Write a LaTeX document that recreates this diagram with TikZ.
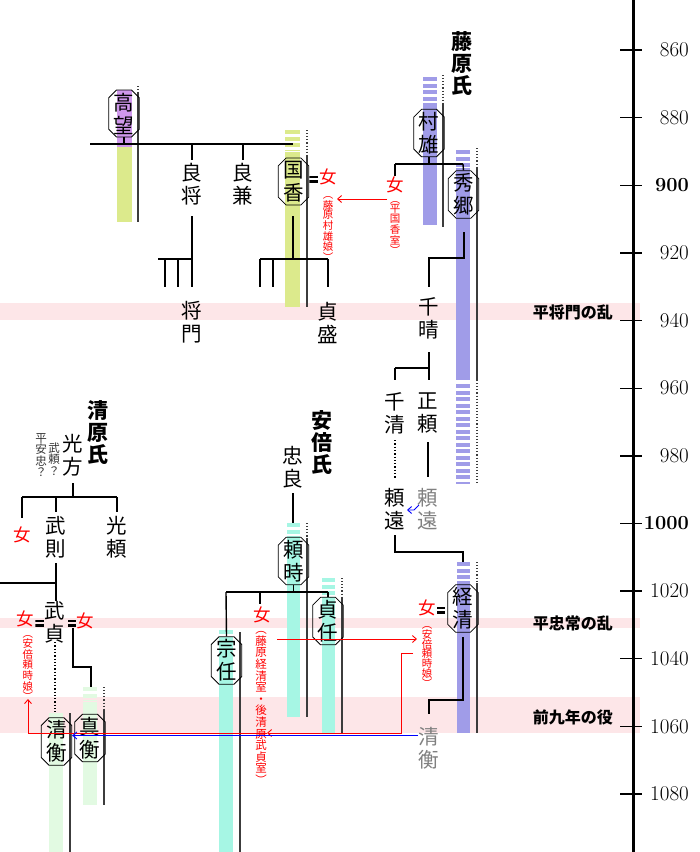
\documentclass[tikz,border=0pt]{standalone}
\usepackage{fontspec}
\newfontfamily\cjk{Noto Sans CJK JP}
\usetikzlibrary{shapes.misc,arrows.meta}
\definecolor{fpurple}{RGB}{160,156,232}
\definecolor{tpurple}{RGB}{208,152,236}
\definecolor{tyg}{RGB}{220,234,140}
\definecolor{acyan}{RGB}{166,246,228}
\definecolor{kgreen}{RGB}{226,250,226}
\definecolor{bandc}{RGB}{253,230,232}
\definecolor{gtext}{RGB}{128,128,128}
\definecolor{lifec}{RGB}{60,60,60}
\newcommand\stripebar[5]{%
  \pgfmathtruncatemacro\nstr{floor(((#4)-(#3))/6.5)}%
  \foreach \i in {0,...,\nstr}{\fill[#5] (#1,{#3+\i*6.5}) rectangle (#2,{min(#3+\i*6.5+4,#4)});}}
\begin{document}
\begin{tikzpicture}[x=1pt,y=-1pt,
  nm/.style={font=\cjk\fontsize{20.5}{23}\selectfont, align=center, inner sep=0pt},
  bx/.style={nm, draw, line width=0.8pt, chamfered rectangle, chamfered rectangle xsep=5pt, minimum width=28pt, minimum height=47pt},
  ttl/.style={font=\cjk\bfseries\fontsize{21}{22}\selectfont, align=center, inner sep=0pt},
  wom/.style={font=\cjk\fontsize{17.5}{17.5}\selectfont, text=red, inner sep=0pt},
  sm/.style={text=red, align=center, inner sep=0pt},
  gsm/.style={font=\cjk\fontsize{11.5}{11.3}\selectfont, text={rgb,255:red,50;green,50;blue,50}, align=center, inner sep=0pt},
  eq/.style={minimum width=8.5pt, minimum height=7pt, inner sep=0pt,
    path picture={\fill (path picture bounding box.north west) rectangle ([yshift=-2.2pt]path picture bounding box.north east);
                  \fill (path picture bounding box.south west) rectangle ([yshift=2.2pt]path picture bounding box.south east);}},
  tl/.style={line width=1.4pt},
  life/.style={line width=1.1pt, draw=lifec},
  lifed/.style={line width=1.1pt, draw=lifec, dotted},
  rarr/.style={red, line width=0.9pt, -{Straight Barb[length=4pt,width=7pt]}},
  barr/.style={blue, line width=0.9pt, -{Straight Barb[length=4pt,width=7pt]}},
  yr/.style={font=\fontsize{21}{21}\selectfont, anchor=east, inner sep=0pt},
  blab/.style={font=\cjk\bfseries\fontsize{16}{16}\selectfont, anchor=east, inner sep=0pt}
]
\useasboundingbox (0,0) rectangle (700,852);
% event bands
\fill[bandc] (0,303) rectangle (640,320);
\fill[bandc] (0,618) rectangle (640,628);
\fill[bandc] (0,697) rectangle (640,733);
\node[blab] (ev1) at (613,312) {平将門の乱};
\node[blab] (ev2) at (613,623) {平忠常の乱};
\node[blab] (ev3) at (613,717) {前九年の役};
% time axis
\draw[line width=3pt] (633,0) -- (633,852);
\foreach \y in {860,880,...,1080}{
  \pgfmathsetmacro\yy{50+(\y-860)*3.382}
  \draw[line width=1.4pt] (620,\yy) -- (642,\yy);
  \ifnum\y=900 \node[yr,font=\bfseries\fontsize{20}{20}\selectfont] (y\y) at (689,\yy) {\y};
  \else\ifnum\y=1000 \node[yr,font=\bfseries\fontsize{20}{20}\selectfont] (y\y) at (689,\yy) {\y};
  \else \node[yr] (y\y) at (689,\yy) {\y};\fi\fi
}
% ---------- life bars ----------
% Taira
\fill[tpurple] (117,90) rectangle (132,147);
\fill[tyg] (117,147) rectangle (132,222);
\draw[lifed] (138,86) -- (138,92); \draw[life] (138,92) -- (138,222);
\stripebar{285}{300}{130}{150}{tyg}
\fill[tyg] (285,152) rectangle (300,307);
\draw[lifed] (307,130) -- (307,155); \draw[life] (307,155) -- (307,307);
% Fujiwara
\stripebar{423}{437}{77}{101}{fpurple}
\fill[fpurple] (423,103) rectangle (437,225);
\draw[lifed] (443,75) -- (443,103); \draw[life] (443,103) -- (443,227);
\stripebar{456}{470}{150}{168}{fpurple}
\fill[fpurple] (456,168) rectangle (470,380);
\stripebar{456}{470}{384}{484}{fpurple}
\draw[lifed] (477,148) -- (477,168); \draw[life] (477,168) -- (477,380); \draw[lifed] (477,380) -- (477,484);
\stripebar{457}{470}{562}{580}{fpurple}
\fill[fpurple] (457,581) rectangle (470,733);
\draw[lifed] (477,562) -- (477,583); \draw[life] (477,583) -- (477,733);
% Abe
\stripebar{287}{300}{523}{535}{acyan}
\fill[acyan] (287,536) rectangle (300,717);
\draw[lifed] (307,523) -- (307,538); \draw[life] (307,538) -- (307,717);
\stripebar{322}{335}{578}{596}{acyan}
\fill[acyan] (322,597) rectangle (335,733);
\draw[lifed] (342,578) -- (342,597); \draw[life] (342,597) -- (342,733);
\stripebar{219}{233}{630}{637}{acyan}
\fill[acyan] (219,637) rectangle (233,852);
\draw[life] (240,632) -- (240,852);
% Kiyohara
\fill[kgreen] (49,713) rectangle (63,852);
\draw[life] (70,713) -- (70,852);
\stripebar{83}{97}{687}{701}{kgreen}
\fill[kgreen] (83,702) rectangle (97,805);
\draw[lifed] (104,687) -- (104,710); \draw[life] (104,710) -- (104,805);
% ---------- Taira ----------
\node[bx] (takamochi) at (124,113.5) {高\\望};
\node[nm] (yoshimasa) at (192,184.5) {良\\将};
\node[nm] (yoshikane) at (243,184.5) {良\\兼};
\node[nm] (masakado) at (192,322.5) {将\\門};
\node[bx] (kunika) at (293.5,181.5) {国\\香};
\node[nm] (sadamori) at (328,322.5) {貞\\盛};
\node[eq] (eqT) at (313.5,179) {};
\node[wom] (onnaT) at (328,177) {女};
\node[sm, font=\cjk\fontsize{10.5}{9.4}\selectfont] (onnaTn) at (328,229) {︵\\藤\\原\\村\\雄\\娘\\︶};
\draw[tl] (90,144) -- (293,144);
\draw[tl] (takamochi.south) -- (124,144);
\draw[tl] (192,144) -- (192,160);
\draw[tl] (243,144) -- (243,160);
\draw[tl] (192,216) -- (192,287);
\draw[tl] (158,259) -- (192,259);
\draw[tl] (165,259) -- (165,287);
\draw[tl] (178,259) -- (178,287);
\draw[tl] (293,216) -- (293,259);
\draw[tl] (260,259) -- (328,259);
\draw[tl] (260,259) -- (260,287);
\draw[tl] (273,259) -- (273,287);
\draw[tl] (328,259) -- (328,287);
% ---------- Fujiwara ----------
\node[ttl] (fujiwara) at (462,64) {藤\\原\\氏};
\node[bx] (murao) at (429,133) {村\\雄};
\node[bx] (hidesato) at (463.5,194.5) {秀\\郷};
\node[wom] (onnaF1) at (395,185) {女};
\node[sm, font=\cjk\fontsize{10.5}{9}\selectfont] (onnaF1n) at (395,228) {︵\\平\\国\\香\\室\\︶};
\draw[rarr] (387,199) -- (337,199);
\draw[tl] (murao.south) -- (429,164);
\draw[tl] (395,164) -- (463,164);
\draw[tl] (395,164) -- (395,176);
\draw[tl] (463,164) -- (hidesato.north);
\node[nm] (chiharu) at (429,318.5) {千\\晴};
\draw[tl] (464,232) -- (464,258) -- (429,258) -- (429,287);
\node[nm] (chikiyo) at (395,413) {千\\清};
\node[nm] (masayori) at (428,413) {正\\頼};
\draw[tl] (429,352) -- (429,380);
\draw[tl] (395,368) -- (429,368);
\draw[tl] (395,368) -- (395,380);
\draw[line width=1.3pt, dotted] (395,440) -- (395,478);
\draw[tl] (428,442) -- (428,477);
\node[nm] (yoritoo) at (395,509) {頼\\遠};
\node[nm, text=gtext] (yoritoo2) at (428,509) {頼\\遠};
\draw[barr] (419,505) -- (414,510) -- (407,510);
\draw[tl] (395,535) -- (395,552) -- (463,552) -- (463,562);
\node[bx] (tsunekiyo) at (463,608.5) {経\\清};
\node[wom] (onnaF2) at (427,608) {女};
\node[eq] (eqF) at (441,610) {};
\node[sm, font=\cjk\fontsize{10.5}{9.9}\selectfont] (onnaF2n) at (427,657) {︵\\安\\倍\\頼\\時\\娘\\︶};
\draw[tl] (463,637) -- (463,700) -- (429,700) -- (429,714);
\node[nm, text=gtext] (kiyohira2) at (429,748.5) {清\\衡};
% ---------- Abe ----------
\node[ttl] (abe) at (322,443) {安\\倍\\氏};
\node[nm] (tadayoshi) at (293,467.5) {忠\\良};
\draw[tl] (293,493) -- (293,523);
\node[bx] (yoritoki) at (293.5,561) {頼\\時};
\node[bx] (sadato) at (328,621) {貞\\任};
\node[bx] (muneto) at (226.5,660.5) {宗\\任};
\draw[tl] (yoritoki.south) -- (293.5,592);
\draw[tl] (226,592) -- (328,592);
\draw[tl] (226,592) -- (muneto.north);
\draw[tl] (260,592) -- (260,604);
\draw[tl] (328,592) -- (sadato.north);
\node[wom] (onnaA) at (262,615) {女};
\node[sm, font=\cjk\fontsize{11.5}{11.6}\selectfont] (onnaAn) at (261,708) {︵\\藤\\原\\経\\清\\室\\・\\後\\清\\原\\武\\貞\\室\\︶};
% ---------- Kiyohara ----------
\node[ttl] (kiyohara) at (98,433) {清\\原\\氏};
\node[gsm] (tq1) at (41,455) {平\\安\\忠\\？};
\node[gsm] (tq2) at (54,459) {武\\頼\\？};
\node[nm] (mitsukata) at (73,455.5) {光\\方};
\draw[tl] (73,483) -- (73,497);
\draw[tl] (22,497) -- (117,497);
\draw[tl] (22,497) -- (22,518);
\draw[tl] (56,497) -- (56,512);
\draw[tl] (117,497) -- (117,512);
\node[wom] (onnaK1) at (22,535) {女};
\node[nm] (takenori) at (56,537.5) {武\\則};
\node[nm] (mitsuyori) at (117,537.5) {光\\頼};
\draw[tl] (56,563) -- (56,601);
\draw[tl] (0,583) -- (56,583);
\node[nm] (takesada) at (55,622) {武\\貞};
\node[wom] (onnaK2) at (25,619) {女};
\node[eq] (eqK1) at (39.5,623) {};
\node[eq] (eqK2) at (72,623) {};
\node[wom] (onnaK3) at (85,621) {女};
\node[sm, font=\cjk\fontsize{10.5}{9.6}\selectfont] (onnaK2n) at (28,668) {︵\\安\\倍\\頼\\時\\娘\\︶};
\draw[line width=1.3pt, dotted] (55,642) -- (55,712);
\draw[tl] (73,628) -- (73,667) -- (91,667) -- (91,687);
\node[bx] (kiyohira) at (56.5,741.5) {清\\衡};
\node[bx] (sanehira) at (90,738) {真\\衡};
% ---------- red / blue links ----------
\draw[rarr] (277,639) -- (417,639);
\draw[rarr] (413,653) -- (401,653) -- (401,733) -- (267,733);
\draw[rarr] (267,733) -- (28,733) -- (28,699);
\draw[barr] (418,735.5) -- (kiyohira.east |- 0,735.5);
\end{tikzpicture}
\end{document}
